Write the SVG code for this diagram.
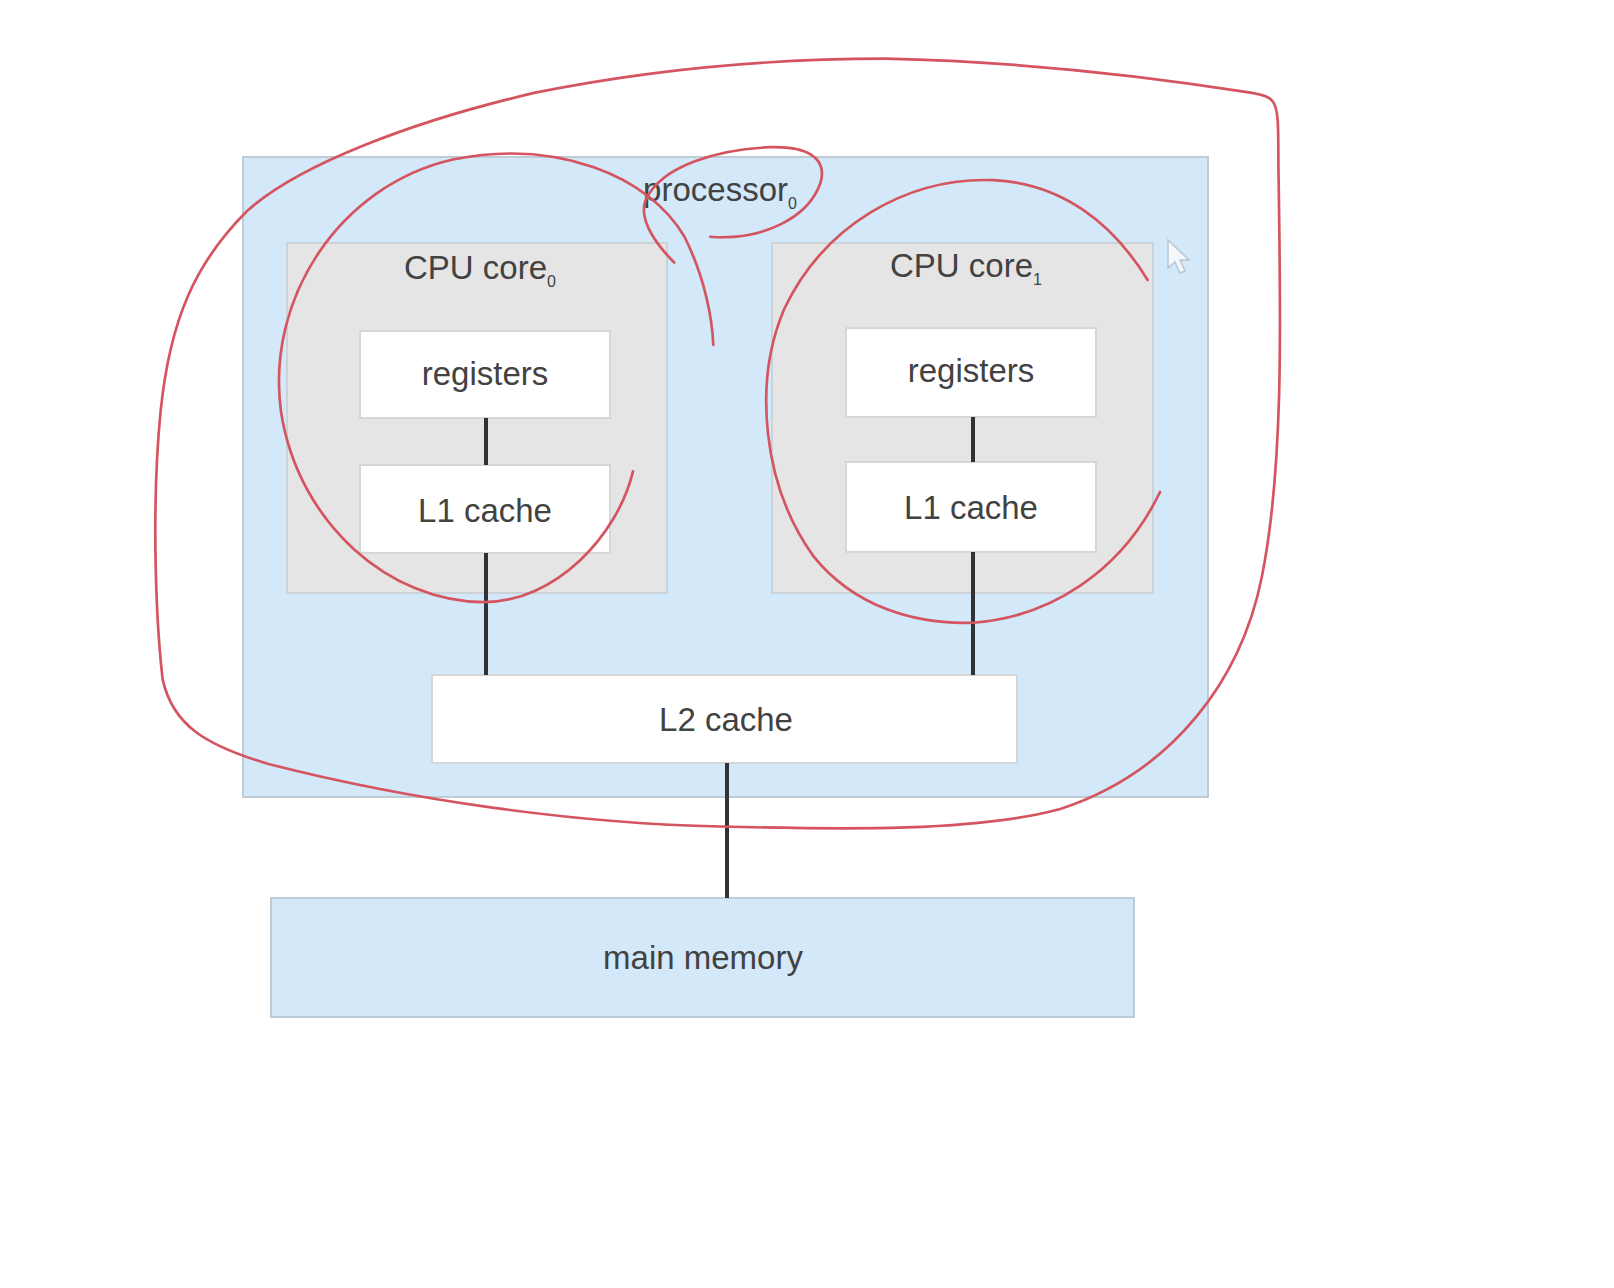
<svg xmlns="http://www.w3.org/2000/svg" width="1614" height="1288" viewBox="0 0 1614 1288">
<style>
.lbl{font-family:"Liberation Sans",Arial,sans-serif;font-size:33px;fill:#424242;text-anchor:middle}
.sub{font-size:16px}
.blue{fill:#d3e8f9;stroke:#bfcbd5;stroke-width:2}
.core{fill:#e5e5e5;stroke:#cdd2d6;stroke-width:2}
.box{fill:#ffffff;stroke:#d4d6d8;stroke-width:2}
.wire{stroke:#2f3338;stroke-width:4;fill:none}
.ink{fill:none;stroke:#d4545f;stroke-width:2.6;stroke-linecap:round;stroke-linejoin:round}
</style>
<rect width="1614" height="1288" fill="#ffffff"/>
<g id="processor">
<rect class="blue" x="243" y="157" width="965" height="640"/>
<text class="lbl" x="720" y="201">processor<tspan class="sub" dy="8">0</tspan></text>
</g>
<g id="core0">
<rect class="core" x="287" y="243" width="380" height="350"/>
<text class="lbl" x="480" y="279">CPU core<tspan class="sub" dy="8">0</tspan></text>
</g>
<g id="core1">
<rect class="core" x="772" y="243" width="381" height="350"/>
<text class="lbl" x="966" y="277">CPU core<tspan class="sub" dy="8">1</tspan></text>
</g>
<g id="registers0">
<rect class="box" x="360" y="331" width="250" height="87"/>
<text class="lbl" x="485" y="385">registers</text>
</g>
<g id="l1cache0">
<rect class="box" x="360" y="465" width="250" height="88"/>
<text class="lbl" x="485" y="522">L1 cache</text>
</g>
<g id="registers1">
<rect class="box" x="846" y="328" width="250" height="89"/>
<text class="lbl" x="971" y="382">registers</text>
</g>
<g id="l1cache1">
<rect class="box" x="846" y="462" width="250" height="90"/>
<text class="lbl" x="971" y="519">L1 cache</text>
</g>
<g id="l2cache">
<rect class="box" x="432" y="675" width="585" height="88"/>
<text class="lbl" x="726" y="731">L2 cache</text>
</g>
<g id="mainmemory">
<rect class="blue" x="271" y="898" width="863" height="119"/>
<text class="lbl" x="703" y="969">main memory</text>
</g>
<g id="connectors">
<line class="wire" x1="486" y1="418" x2="486" y2="465"/>
<line class="wire" x1="486" y1="553" x2="486" y2="675"/>
<line class="wire" x1="973" y1="417" x2="973" y2="462"/>
<line class="wire" x1="973" y1="552" x2="973" y2="675"/>
<line class="wire" x1="727" y1="763" x2="727" y2="898"/>
</g>
<g id="annotations" transform="scale(1.0293)">
<path class="ink" d="M1236,98 C1242,104 1242,120 1242,160 C1244,300 1248,450 1226,560 C1206,660 1140,750 1030,786 C950,808 820,806 700,803 C560,800 400,778 260,742 C200,724 168,705 158,660 C150,590 148,480 156,400 C165,310 190,255 240,205 C290,160 400,118 520,90 C640,66 760,57 860,57 C1000,60 1120,75 1215,90 C1228,92 1234,95 1236,98 Z"/>
<path class="ink" d="M615,458 C600,520 540,585 470,585 C380,585 290,510 273,400 C258,290 330,180 440,155 C540,135 630,170 665,230 C685,270 692,310 693,335"/>
<path class="ink" d="M690,230 C740,234 785,212 797,178 C805,152 782,142 748,143 C700,145 642,160 627,195 C620,215 640,240 655,255"/>
<path class="ink" d="M1115,272 C1080,215 1030,178 965,175 C880,172 800,220 762,300 C732,370 740,470 790,540 C830,590 890,607 945,605 C1020,600 1090,555 1127,478"/>
</g>
<g id="cursor">
<path d="M1168,240 L1168,268 L1175,262 L1180,273 L1185,271 L1180,260 L1189,260 Z" fill="#f4f8fc" stroke="#b8c4ce" stroke-width="1.5"/>
</g>
</svg>
